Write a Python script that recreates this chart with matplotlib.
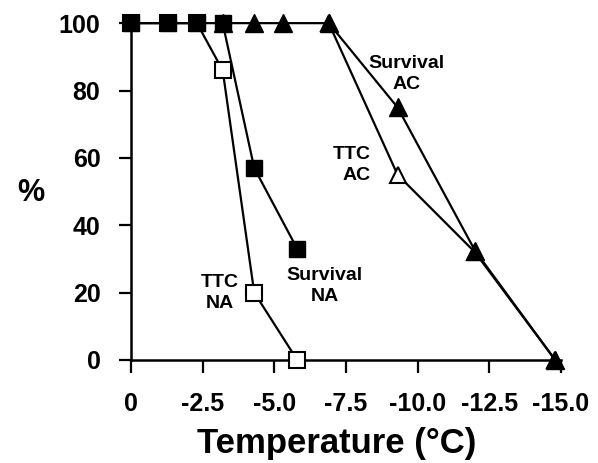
"""Survival / TTC vs temperature"""

import numpy as np
import matplotlib
matplotlib.use("Agg")
from matplotlib import pyplot as plt

plt.rcParams['font.family'] = ['Liberation Sans', 'DejaVu Sans']
plt.rcParams['font.weight'] = 'bold'

# data
temp_na = [0.0, -1.3, -2.3, -3.2, -4.3, -5.8]
surv_na = [100, 100, 100, 100, 57, 33]
ttc_na = [100, 100, 100, 86, 20, 0]

temp_surv_ac = [-3.2, -4.3, -5.3, -6.9, -9.3, -12.0, -14.8]
surv_ac = [100, 100, 100, 100, 75, 32.5, 0]

temp_ttc_ac = [-6.9, -9.3, -12.0, -14.8]
ttc_ac = [100, 55, 32, 0]

xticks = [0, -2.5, -5.0, -7.5, -10.0, -12.5, -15.0]
xticklabels = ['0', '-2.5', '-5.0', '-7.5', '-10.0', '-12.5', '-15.0']
yticks = [0, 20, 40, 60, 80, 100]

fig = plt.figure(figsize=(5.98, 4.63), dpi=100)
ax = fig.add_axes([0.219, 0.2225, 0.719, 0.7275])

lw = 1.6
ax.plot(temp_ttc_ac, ttc_ac, '-', color='black', lw=lw, marker='^', ms=12,
        mfc='white', mec='black', mew=1.5, clip_on=False, zorder=2)
ax.plot(temp_surv_ac, surv_ac, '-', color='black', lw=lw, marker='^', ms=13,
        mfc='black', mec='black', clip_on=False, zorder=3)
ax.plot(temp_na, ttc_na, '-', color='black', lw=lw, marker='s', ms=11,
        mfc='white', mec='black', mew=1.5, clip_on=False, zorder=4)
ax.plot(temp_na, surv_na, '-', color='black', lw=lw, marker='s', ms=12,
        mfc='black', mec='black', clip_on=False, zorder=5)

ax.set_xlim(0, -15)
ax.set_ylim(0, 100)
ax.set_xticks(xticks)
ax.set_xticklabels(xticklabels)
ax.set_yticks(yticks)

for s in ['top', 'right']:
    ax.spines[s].set_visible(False)
for s in ['left', 'bottom']:
    ax.spines[s].set_linewidth(1.8)
ax.tick_params(axis='both', direction='out', length=9, width=1.6, labelsize=18)
ax.tick_params(axis='x', pad=14)
ax.tick_params(axis='y', pad=13)

ax.set_xlabel('Temperature (°C)', fontsize=25, fontweight='bold')
ax.xaxis.set_label_coords(0.478, -0.198)
fig.text(0.051, 0.583, '%', fontsize=22, fontweight='bold', ha='center', va='center')

kw = dict(fontsize=14, fontweight='bold', linespacing=1.3)
ax.text(-9.6, 85, 'Survival\nAC', ha='center', va='center', **kw)
ax.text(-8.35, 58, 'TTC\nAC', ha='right', va='center', multialignment='right', **kw)
ax.text(-6.75, 22, 'Survival\nNA', ha='center', va='center', **kw)
ax.text(-3.1, 20, 'TTC\nNA', ha='center', va='center', **kw)

fig.savefig('out.png', dpi=100)
